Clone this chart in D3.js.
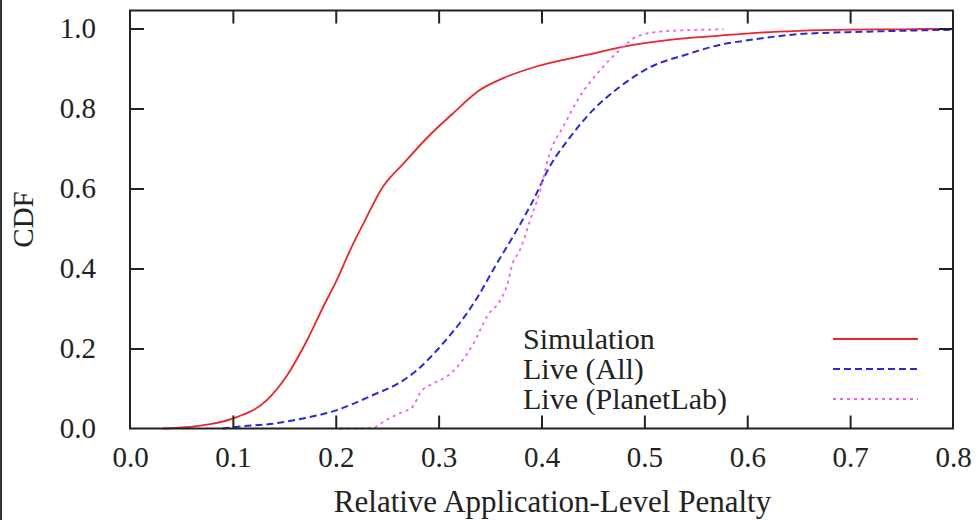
<!DOCTYPE html>
<html><head><meta charset="utf-8">
<script src="https://cdn.jsdelivr.net/npm/d3@7"></script>
<style>body{margin:0;background:#fff}svg{display:block}text{font-family:"Liberation Serif","Times New Roman",serif;fill:#222}</style>
</head><body><svg id="c" width="976" height="520"></svg>
<script>
const xTicks = [0, 0.1, 0.2, 0.3, 0.4, 0.5, 0.6, 0.7, 0.8];
const yTicks = [0, 0.2, 0.4, 0.6, 0.8, 1.0];
const seriesNames = ["Simulation", "Live (All)", "Live (PlanetLab)"];
const simulation = [[0.032,0],[0.065,0.006],[0.099,0.024],[0.133,0.071],[0.152,0.13],[0.172,0.22],[0.188,0.305],[0.201,0.371],[0.214,0.446],[0.227,0.513],[0.246,0.605],[0.266,0.663],[0.29,0.73],[0.314,0.788],[0.340,0.846],[0.363,0.876],[0.395,0.905],[0.444,0.934],[0.489,0.959],[0.541,0.976],[0.573,0.982],[0.602,0.988],[0.65,0.994],[0.7,0.997],[0.75,0.998],[0.8,1.0]];
const liveAll = [[0.09,0],[0.107,0.005],[0.136,0.011],[0.168,0.025],[0.201,0.046],[0.233,0.08],[0.266,0.121],[0.28,0.148],[0.292,0.178],[0.305,0.215],[0.321,0.265],[0.337,0.325],[0.356,0.41],[0.376,0.496],[0.392,0.571],[0.408,0.655],[0.428,0.729],[0.450,0.796],[0.476,0.854],[0.507,0.905],[0.541,0.935],[0.573,0.959],[0.602,0.971],[0.651,0.986],[0.716,0.992],[0.8,0.997]];
const livePlanetLab = [[0.204,0],[0.235,0.001],[0.249,0.021],[0.262,0.038],[0.275,0.055],[0.282,0.089],[0.295,0.113],[0.308,0.13],[0.321,0.163],[0.334,0.213],[0.347,0.28],[0.360,0.321],[0.366,0.354],[0.372,0.413],[0.379,0.446],[0.389,0.521],[0.398,0.588],[0.408,0.688],[0.421,0.754],[0.437,0.829],[0.457,0.896],[0.476,0.946],[0.492,0.979],[0.515,0.992],[0.545,0.996],[0.577,0.998]];

const svg = d3.select("#c");
const L = 130, R = 953, T = 10.5, B = 428.5;
const x = d3.scaleLinear().domain([0, 0.8]).range([L, R]);
const y = d3.scaleLinear().domain([0, 1.045]).range([B, T]);
const fs = 29;
const ink = "#222";
const ff = "'Liberation Serif', 'Times New Roman', serif";

svg.append("rect").attr("x",0).attr("y",0).attr("width",2).attr("height",520).attr("fill","#333");

const g = svg.append("g");
const line = d3.line().x(d=>x(d[0])).y(d=>y(d[1])).curve(d3.curveMonotoneX);
const styles = [
  {data: simulation, color: "#e8262b", dash: null, w: 1.8},
  {data: liveAll, color: "#2a2ad0", dash: "7,4", w: 2},
  {data: livePlanetLab, color: "#ee60ee", dash: "3,4", w: 1.8}
];
styles.forEach(s => {
  g.append("path").datum(s.data).attr("d", line).attr("fill","none")
   .attr("stroke", s.color).attr("stroke-width", s.w).attr("stroke-dasharray", s.dash);
});

svg.append("rect").attr("x",L).attr("y",T).attr("width",R-L).attr("height",B-T)
  .attr("fill","none").attr("stroke",ink).attr("stroke-width",2);

const xb = svg.append("g").attr("transform",`translate(0,${B})`)
  .call(d3.axisBottom(x).tickValues(xTicks).tickFormat(d3.format(".1f")).tickSizeInner(-13).tickSizeOuter(0).tickPadding(18));
const xt = svg.append("g").attr("transform",`translate(0,${T})`)
  .call(d3.axisTop(x).tickValues(xTicks).tickFormat("").tickSizeInner(-13).tickSizeOuter(0));
const yl = svg.append("g").attr("transform",`translate(${L},0)`)
  .call(d3.axisLeft(y).tickValues(yTicks).tickFormat(d3.format(".1f")).tickSizeInner(-14).tickSizeOuter(0).tickPadding(34));
const yr = svg.append("g").attr("transform",`translate(${R},0)`)
  .call(d3.axisRight(y).tickValues(yTicks).tickFormat("").tickSizeInner(-14).tickSizeOuter(0));
[xb,xt,yl,yr].forEach(a => {
  a.attr("font-family", ff);
  a.select(".domain").remove();
  a.selectAll("line").attr("stroke",ink).attr("stroke-width",2);
  a.selectAll("text").attr("font-size",fs).style("font-family",ff).attr("fill",ink);
});
xb.selectAll(".tick").filter(d=>d===0||d===0.8).select("line").remove();
xt.selectAll(".tick").filter(d=>d===0||d===0.8).select("line").remove();
yl.selectAll(".tick").filter(d=>d===0).select("line").remove();
yr.selectAll(".tick").filter(d=>d===0).select("line").remove();

svg.append("text").attr("x",(L+R)/2 + 11).attr("y",512).attr("text-anchor","middle")
  .attr("font-size",31).style("font-family",ff).text("Relative Application-Level Penalty");
svg.append("text").attr("transform",`translate(33,${(T+B)/2}) rotate(-90)`).attr("text-anchor","middle")
  .attr("font-size",fs).style("font-family",ff).text("CDF");

const legY = [339, 369, 399];
styles.forEach((s,i) => {
  svg.append("text").attr("x",523).attr("y",legY[i]+10).attr("font-size",30).style("font-family",ff).text(seriesNames[i]);
  svg.append("line").attr("x1",833).attr("x2",918).attr("y1",legY[i]).attr("y2",legY[i])
    .attr("stroke",s.color).attr("stroke-width",s.w).attr("stroke-dasharray",s.dash);
});
</script></body></html>
